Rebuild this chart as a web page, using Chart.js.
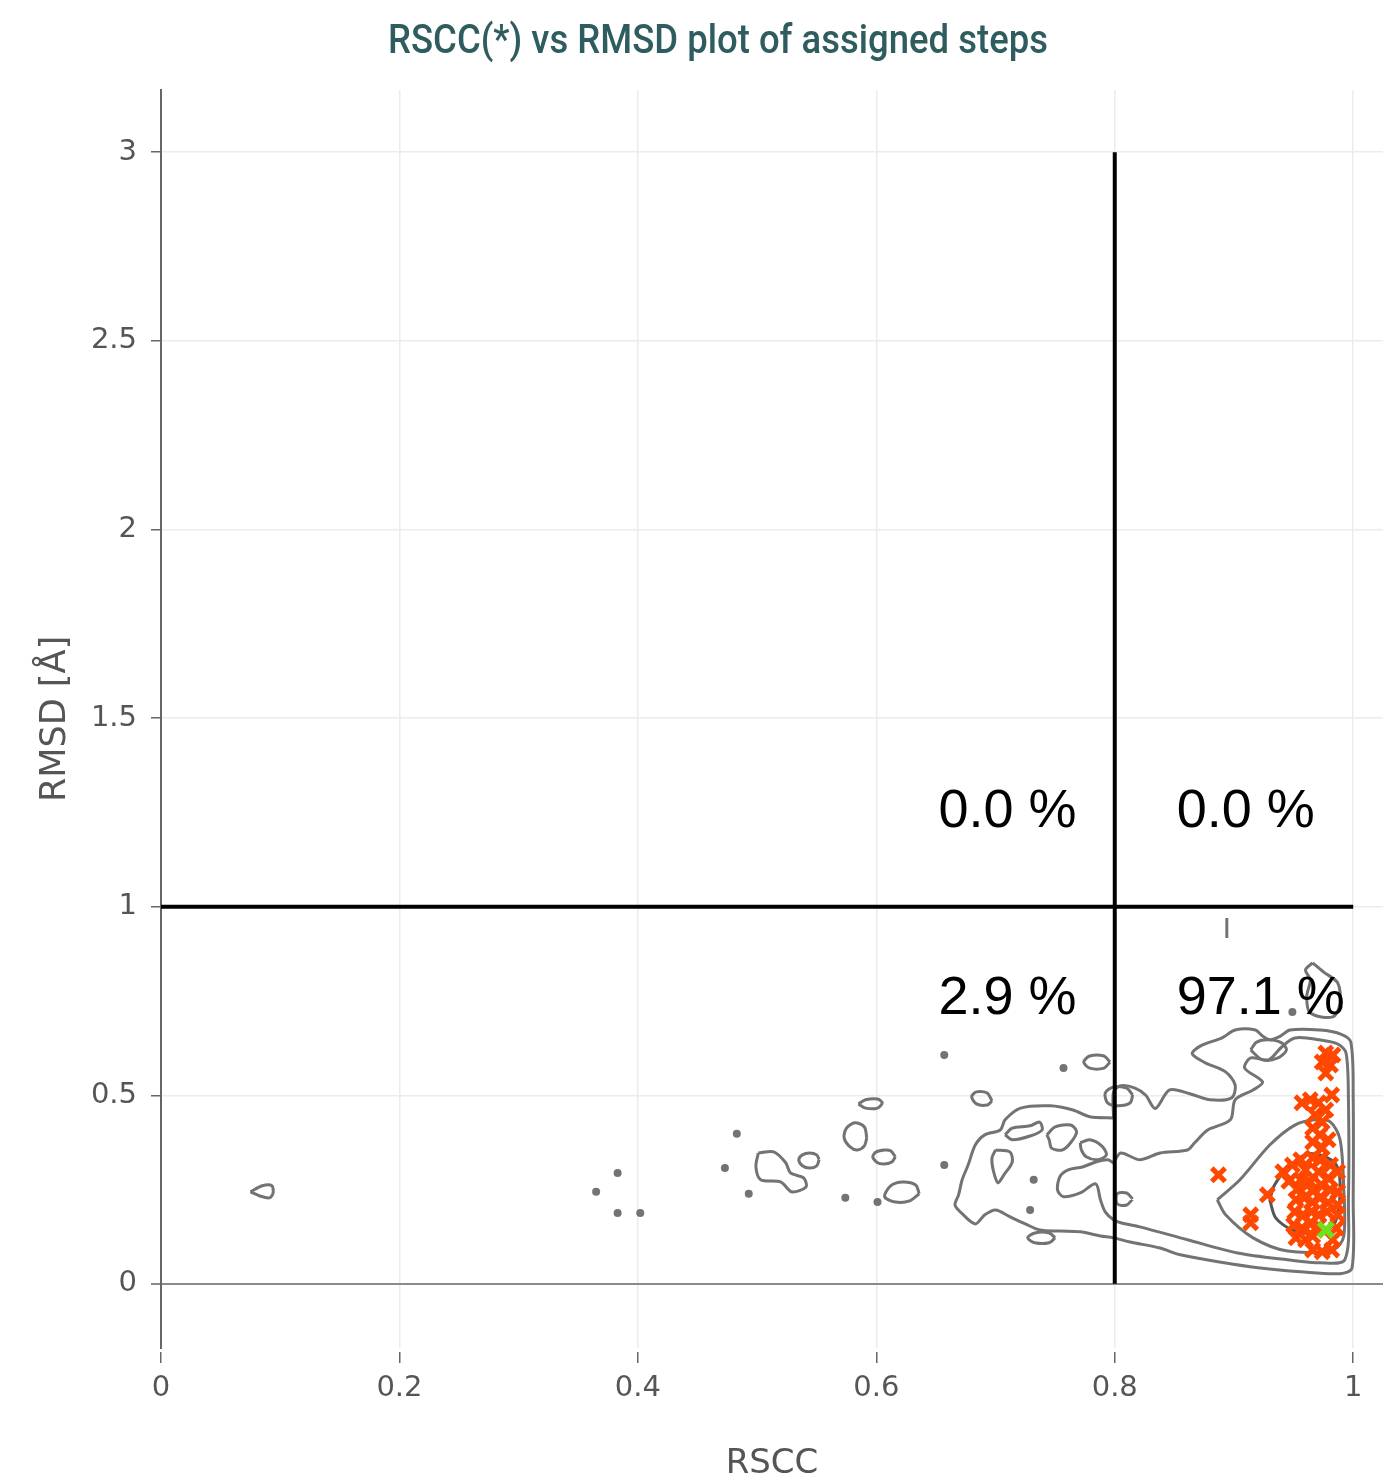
<!DOCTYPE html>
<html><head><meta charset="utf-8">
<script src="https://cdn.jsdelivr.net/npm/chart.js@4.4.1/dist/chart.umd.min.js"></script>
<style>html,body{margin:0;padding:0;background:#fff;}#wrap{width:1383px;height:1482px;position:relative;}</style>
</head><body><div id="wrap"><canvas id="c" width="1383" height="1482"></canvas></div>
<script>
// ---------------- text ----------------
const chartTitle = 'RSCC(*) vs RMSD plot of assigned steps';
const xAxisTitle = 'RSCC';
const yAxisTitle = 'RMSD [Å]';
// ---------------- ticks ----------------
const xTicks = [0, 0.2, 0.4, 0.6, 0.8, 1];
const xTickLabels = ['0', '0.2', '0.4', '0.6', '0.8', '1'];
const yTicks = [0, 0.5, 1, 1.5, 2, 2.5, 3];
const yTickLabels = ['0', '0.5', '1', '1.5', '2', '2.5', '3'];
// ---------------- thresholds & quadrant percentages ----------------
const rsccCut = 0.8;
const rmsdCut = 1.0;
const rmsdTop = 3;
const quadrantPercents = ['0.0 %', '0.0 %', '2.9 %', '97.1 %']; // upper-left, upper-right, lower-left, lower-right

// ---------------- density contours (RSCC, RMSD) ----------------
const contourOuter = [[0.799,0.440],[0.779,0.443],[0.765,0.461],[0.746,0.472],[0.721,0.466],[0.708,0.435],[0.704,0.408],[0.691,0.395],[0.683,0.368],[0.677,0.315],[0.672,0.276],[0.669,0.236],[0.666,0.209],[0.672,0.186],[0.683,0.159],[0.691,0.183],[0.700,0.196],[0.712,0.178],[0.725,0.159],[0.737,0.143],[0.754,0.140],[0.771,0.138],[0.788,0.127],[0.799,0.122],[0.813,0.111],[0.838,0.095],[0.855,0.077],[0.888,0.058],[0.922,0.042],[0.956,0.032],[0.989,0.027],[0.999,0.042],[1.000,0.223],[1.000,0.488],[0.998,0.641],[0.989,0.663],[0.972,0.673],[0.947,0.673],[0.939,0.657],[0.930,0.647],[0.924,0.657],[0.918,0.673],[0.901,0.673],[0.890,0.652],[0.872,0.631],[0.865,0.610],[0.876,0.586],[0.893,0.562],[0.901,0.527],[0.898,0.493],[0.880,0.488],[0.863,0.504],[0.846,0.514],[0.834,0.465],[0.826,0.500],[0.817,0.519],[0.805,0.525],[0.799,0.509],[0.799,0.440]];
const contourMid = [[0.799,0.321],[0.794,0.329],[0.784,0.323],[0.773,0.310],[0.761,0.302],[0.754,0.284],[0.752,0.249],[0.757,0.231],[0.771,0.241],[0.784,0.265],[0.788,0.223],[0.792,0.191],[0.799,0.170],[0.805,0.162],[0.821,0.151],[0.861,0.117],[0.903,0.082],[0.945,0.064],[0.972,0.056],[0.993,0.064],[0.996,0.223],[0.996,0.488],[0.994,0.612],[0.987,0.636],[0.972,0.647],[0.951,0.652],[0.940,0.628],[0.929,0.594],[0.914,0.599],[0.909,0.572],[0.924,0.535],[0.916,0.514],[0.901,0.488],[0.897,0.435],[0.878,0.408],[0.867,0.374],[0.861,0.355],[0.838,0.347],[0.821,0.329],[0.805,0.347],[0.799,0.321]];
const contourInner = [[0.886,0.223],[0.905,0.276],[0.930,0.368],[0.951,0.421],[0.968,0.435],[0.981,0.429],[0.989,0.382],[0.992,0.257],[0.992,0.125],[0.983,0.090],[0.945,0.087],[0.916,0.122],[0.893,0.183],[0.886,0.223]];
const contourCore = [[0.930,0.223],[0.935,0.175],[0.949,0.143],[0.971,0.133],[0.985,0.164],[0.989,0.270],[0.984,0.323],[0.962,0.345],[0.945,0.307],[0.934,0.262],[0.930,0.223]];
const contourIslands = [
  [[0.914,0.620],[0.919,0.641],[0.929,0.647],[0.940,0.639],[0.944,0.620],[0.937,0.599],[0.924,0.594],[0.914,0.620]],
  [[0.075,0.244],[0.085,0.260],[0.093,0.260],[0.094,0.241],[0.091,0.228],[0.083,0.233],[0.075,0.244]],
  [[0.501,0.347],[0.514,0.350],[0.524,0.321],[0.528,0.294],[0.539,0.281],[0.541,0.257],[0.529,0.244],[0.520,0.270],[0.503,0.276],[0.499,0.310],[0.501,0.347]],
  [[0.552,0.329],[0.550,0.342],[0.544,0.347],[0.538,0.342],[0.535,0.329],[0.538,0.313],[0.544,0.307],[0.550,0.313],[0.552,0.329]],
  [[0.592,0.387],[0.590,0.416],[0.582,0.427],[0.575,0.413],[0.573,0.387],[0.578,0.363],[0.584,0.355],[0.590,0.366],[0.592,0.387]],
  [[0.585,0.477],[0.591,0.488],[0.601,0.490],[0.605,0.480],[0.601,0.466],[0.591,0.466],[0.585,0.477]],
  [[0.616,0.337],[0.612,0.353],[0.607,0.355],[0.600,0.350],[0.597,0.337],[0.601,0.321],[0.607,0.318],[0.613,0.323],[0.616,0.337]],
  [[0.636,0.239],[0.633,0.262],[0.622,0.270],[0.612,0.260],[0.607,0.231],[0.616,0.217],[0.628,0.220],[0.636,0.239]],
  [[0.796,0.588],[0.791,0.604],[0.779,0.604],[0.774,0.588],[0.779,0.572],[0.791,0.572],[0.796,0.588]],
  [[0.697,0.485],[0.693,0.506],[0.684,0.509],[0.680,0.496],[0.684,0.477],[0.693,0.474],[0.697,0.485]],
  [[0.815,0.501],[0.810,0.519],[0.799,0.522],[0.792,0.506],[0.794,0.480],[0.803,0.472],[0.813,0.480],[0.815,0.501]],
  [[0.708,0.395],[0.714,0.413],[0.729,0.419],[0.737,0.429],[0.739,0.408],[0.729,0.392],[0.714,0.382],[0.708,0.395]],
  [[0.743,0.395],[0.750,0.416],[0.763,0.421],[0.768,0.403],[0.763,0.374],[0.756,0.355],[0.747,0.360],[0.745,0.382],[0.743,0.395]],
  [[0.771,0.374],[0.779,0.382],[0.789,0.366],[0.793,0.342],[0.786,0.329],[0.776,0.337],[0.772,0.355],[0.771,0.374]],
  [[0.700,0.355],[0.712,0.350],[0.714,0.323],[0.707,0.289],[0.702,0.268],[0.698,0.302],[0.697,0.334],[0.700,0.355]],
  [[0.750,0.122],[0.745,0.135],[0.733,0.135],[0.727,0.122],[0.733,0.109],[0.745,0.109],[0.750,0.122]],
  [[0.815,0.225],[0.810,0.241],[0.802,0.239],[0.802,0.212],[0.810,0.209],[0.815,0.225]],
  [[0.966,0.851],[0.975,0.827],[0.987,0.798],[0.989,0.745],[0.983,0.708],[0.964,0.718],[0.961,0.761],[0.964,0.806],[0.960,0.832],[0.966,0.851]],
  [[0.894,0.970],[0.894,0.917]]
];
const contourDots = [[0.383,0.294],[0.365,0.244],[0.383,0.188],[0.402,0.188],[0.483,0.398],[0.473,0.307],[0.493,0.239],[0.574,0.228],[0.601,0.217],[0.657,0.607],[0.657,0.315],[0.757,0.572],[0.732,0.276],[0.729,0.196],[0.949,0.721]];

// ---------------- assigned steps (RSCC, RMSD) ----------------
const assignedSteps = [
  [0.887,0.289],[0.928,0.236],[0.914,0.183],[0.914,0.162],
  [0.977,0.612],[0.983,0.607],[0.974,0.588],[0.981,0.580],[0.977,0.559],[0.982,0.501],
  [0.957,0.480],[0.964,0.488],[0.971,0.480],[0.977,0.461],[0.968,0.448],[0.974,0.429],[0.966,0.413],[0.972,0.395],[0.966,0.376],[0.974,0.360],[0.979,0.382],
  [0.941,0.297],[0.949,0.315],[0.956,0.329],[0.966,0.334],[0.972,0.329],[0.981,0.315],[0.987,0.297],[0.960,0.302],[0.971,0.297],[0.979,0.281],
  [0.946,0.272],[0.956,0.276],[0.964,0.270],
  [0.954,0.254],[0.961,0.262],[0.967,0.249],[0.974,0.260],[0.981,0.249],[0.987,0.244],
  [0.952,0.223],[0.959,0.228],[0.966,0.217],[0.972,0.228],[0.979,0.215],[0.987,0.209],
  [0.951,0.191],[0.958,0.183],[0.965,0.191],[0.971,0.183],[0.978,0.191],[0.987,0.183],
  [0.950,0.156],[0.957,0.148],[0.964,0.159],[0.971,0.154],[0.986,0.148],
  [0.952,0.122],[0.960,0.117],[0.966,0.127],[0.983,0.117],
  [0.966,0.090],[0.974,0.085],[0.982,0.090]
];
const modelStep = [[0.977, 0.143]];

// ---------------- styling ----------------
const COL_CONTOUR = '#737373';
const COL_CORE = '#565656';
const COL_STEP = '#ff4700';
const COL_MODEL = '#6ee21a';
const COL_TICK = '#555555';
const COL_TITLE = '#2f5c5e';
const labelPos = { leftX: 0.768, rightX: 0.852, upperY: 1.25, lowerY: 0.755 };

const pts = a => a.map(p => ({ x: p[0], y: p[1] }));
const contourDs = (arr, color, w) => ({
  type: 'scatter', data: pts(arr), showLine: true, borderColor: color, borderWidth: w,
  pointRadius: 0, tension: 0.3, fill: false, order: 5
});

const datasets = [
  { data: [{ x: rsccCut, y: 0 }, { x: rsccCut, y: rmsdTop }], showLine: true, borderColor: '#000', borderWidth: 4, pointRadius: 0, order: 0 },
  { data: [{ x: 0, y: rmsdCut }, { x: 1, y: rmsdCut }], showLine: true, borderColor: '#000', borderWidth: 4, pointRadius: 0, order: 0 },
  { data: pts(modelStep), pointStyle: 'crossRot', pointRadius: 10, borderColor: COL_MODEL, backgroundColor: COL_MODEL, pointBorderWidth: 5.5, order: 1 },
  { data: pts(assignedSteps), pointStyle: 'crossRot', pointRadius: 9.5, borderColor: COL_STEP, backgroundColor: COL_STEP, pointBorderWidth: 5, order: 2 },
  contourDs(contourOuter, COL_CONTOUR, 3),
  contourDs(contourMid, COL_CONTOUR, 3),
  contourDs(contourInner, COL_CONTOUR, 3),
  contourDs(contourCore, COL_CORE, 3),
  ...contourIslands.map(a => contourDs(a, COL_CONTOUR, 3)),
  { data: pts(contourDots), pointStyle: 'circle', pointRadius: 4, backgroundColor: COL_CONTOUR, borderWidth: 0, order: 5 }
];

const titlePlugin = {
  id: 'condensedTitle',
  afterDraw(chart) {
    const ctx = chart.ctx;
    ctx.save();
    ctx.font = '500 41px Roboto';
    ctx.fillStyle = COL_TITLE;
    ctx.textAlign = 'center';
    ctx.textBaseline = 'alphabetic';
    const w = ctx.measureText(chartTitle).width;
    const sx = 660 / w;
    ctx.translate(718, 53);
    ctx.scale(sx, 1);
    ctx.fillText(chartTitle, 0, 0);
    ctx.restore();
  }
};

const quadPlugin = {
  id: 'quadLabels',
  afterDatasetsDraw(chart) {
    const ctx = chart.ctx, xs = chart.scales.x, ys = chart.scales.y;
    ctx.save();
    ctx.font = '54px "Liberation Sans", Arial, sans-serif';
    ctx.fillStyle = '#000';
    ctx.textBaseline = 'middle';
    const spots = [
      [labelPos.leftX, labelPos.upperY, 'right'],
      [labelPos.rightX, labelPos.upperY, 'left'],
      [labelPos.leftX, labelPos.lowerY, 'right'],
      [labelPos.rightX, labelPos.lowerY, 'left']
    ];
    spots.forEach((s, i) => {
      ctx.textAlign = s[2];
      ctx.fillText(quadrantPercents[i], xs.getPixelForValue(s[0]), ys.getPixelForValue(s[1]));
    });
    ctx.restore();
  }
};

new Chart(document.getElementById('c'), {
  type: 'scatter',
  data: { datasets },
  options: {
    responsive: false, animation: false, devicePixelRatio: 1,
    layout: { autoPadding: false, padding: { top: 90, left: 0, right: 0, bottom: 0 } },
    plugins: { legend: { display: false }, tooltip: { enabled: false }, title: { display: false } },
    scales: {
      x: {
        type: 'linear', min: 0, max: 1.025,
        afterFit: s => { s.height = 134; s.paddingLeft = 0; s.paddingRight = 0; },
        afterBuildTicks: s => { s.ticks = xTicks.map(v => ({ value: v })); },
        ticks: { callback: (v, i) => xTickLabels[i], color: COL_TICK, font: { family: 'DejaVu Sans', size: 29 }, padding: 8, maxRotation: 0 },
        grid: { color: '#ececec', lineWidth: 1.5, drawTicks: true, tickLength: 15, tickColor: '#666', tickWidth: 1.5, tickBorderDash: [0, 4, 11, 100] },
        border: { display: false },
        title: { display: true, text: xAxisTitle, color: COL_TICK, font: { family: 'DejaVu Sans', size: 34, lineHeight: 1 }, padding: { top: 0, bottom: 1 } }
      },
      y: {
        type: 'linear', min: -0.17, max: 3.165,
        afterFit: s => { s.width = 161; s.paddingTop = 0; s.paddingBottom = 0; },
        afterBuildTicks: s => { s.ticks = yTicks.map(v => ({ value: v })); },
        ticks: { callback: (v, i) => yTickLabels[i], color: COL_TICK, font: { family: 'DejaVu Sans', size: 29 }, padding: 10 },
        grid: {
          color: c => (c.tick && c.tick.value === 0) ? '#8a8a8a' : '#ececec',
          lineWidth: c => (c.tick && c.tick.value === 0) ? 2 : 1.5,
          drawTicks: true, tickLength: 14, tickColor: '#666', tickWidth: 1.5, tickBorderDash: [0, 4, 10, 100]
        },
        border: { display: true, color: '#666', width: 2 },
        title: { display: true, text: yAxisTitle, color: COL_TICK, font: { family: 'DejaVu Sans', size: 35 }, padding: { top: 35, bottom: 0 } }
      }
    }
  },
  plugins: [titlePlugin, quadPlugin]
});
</script></body></html>
